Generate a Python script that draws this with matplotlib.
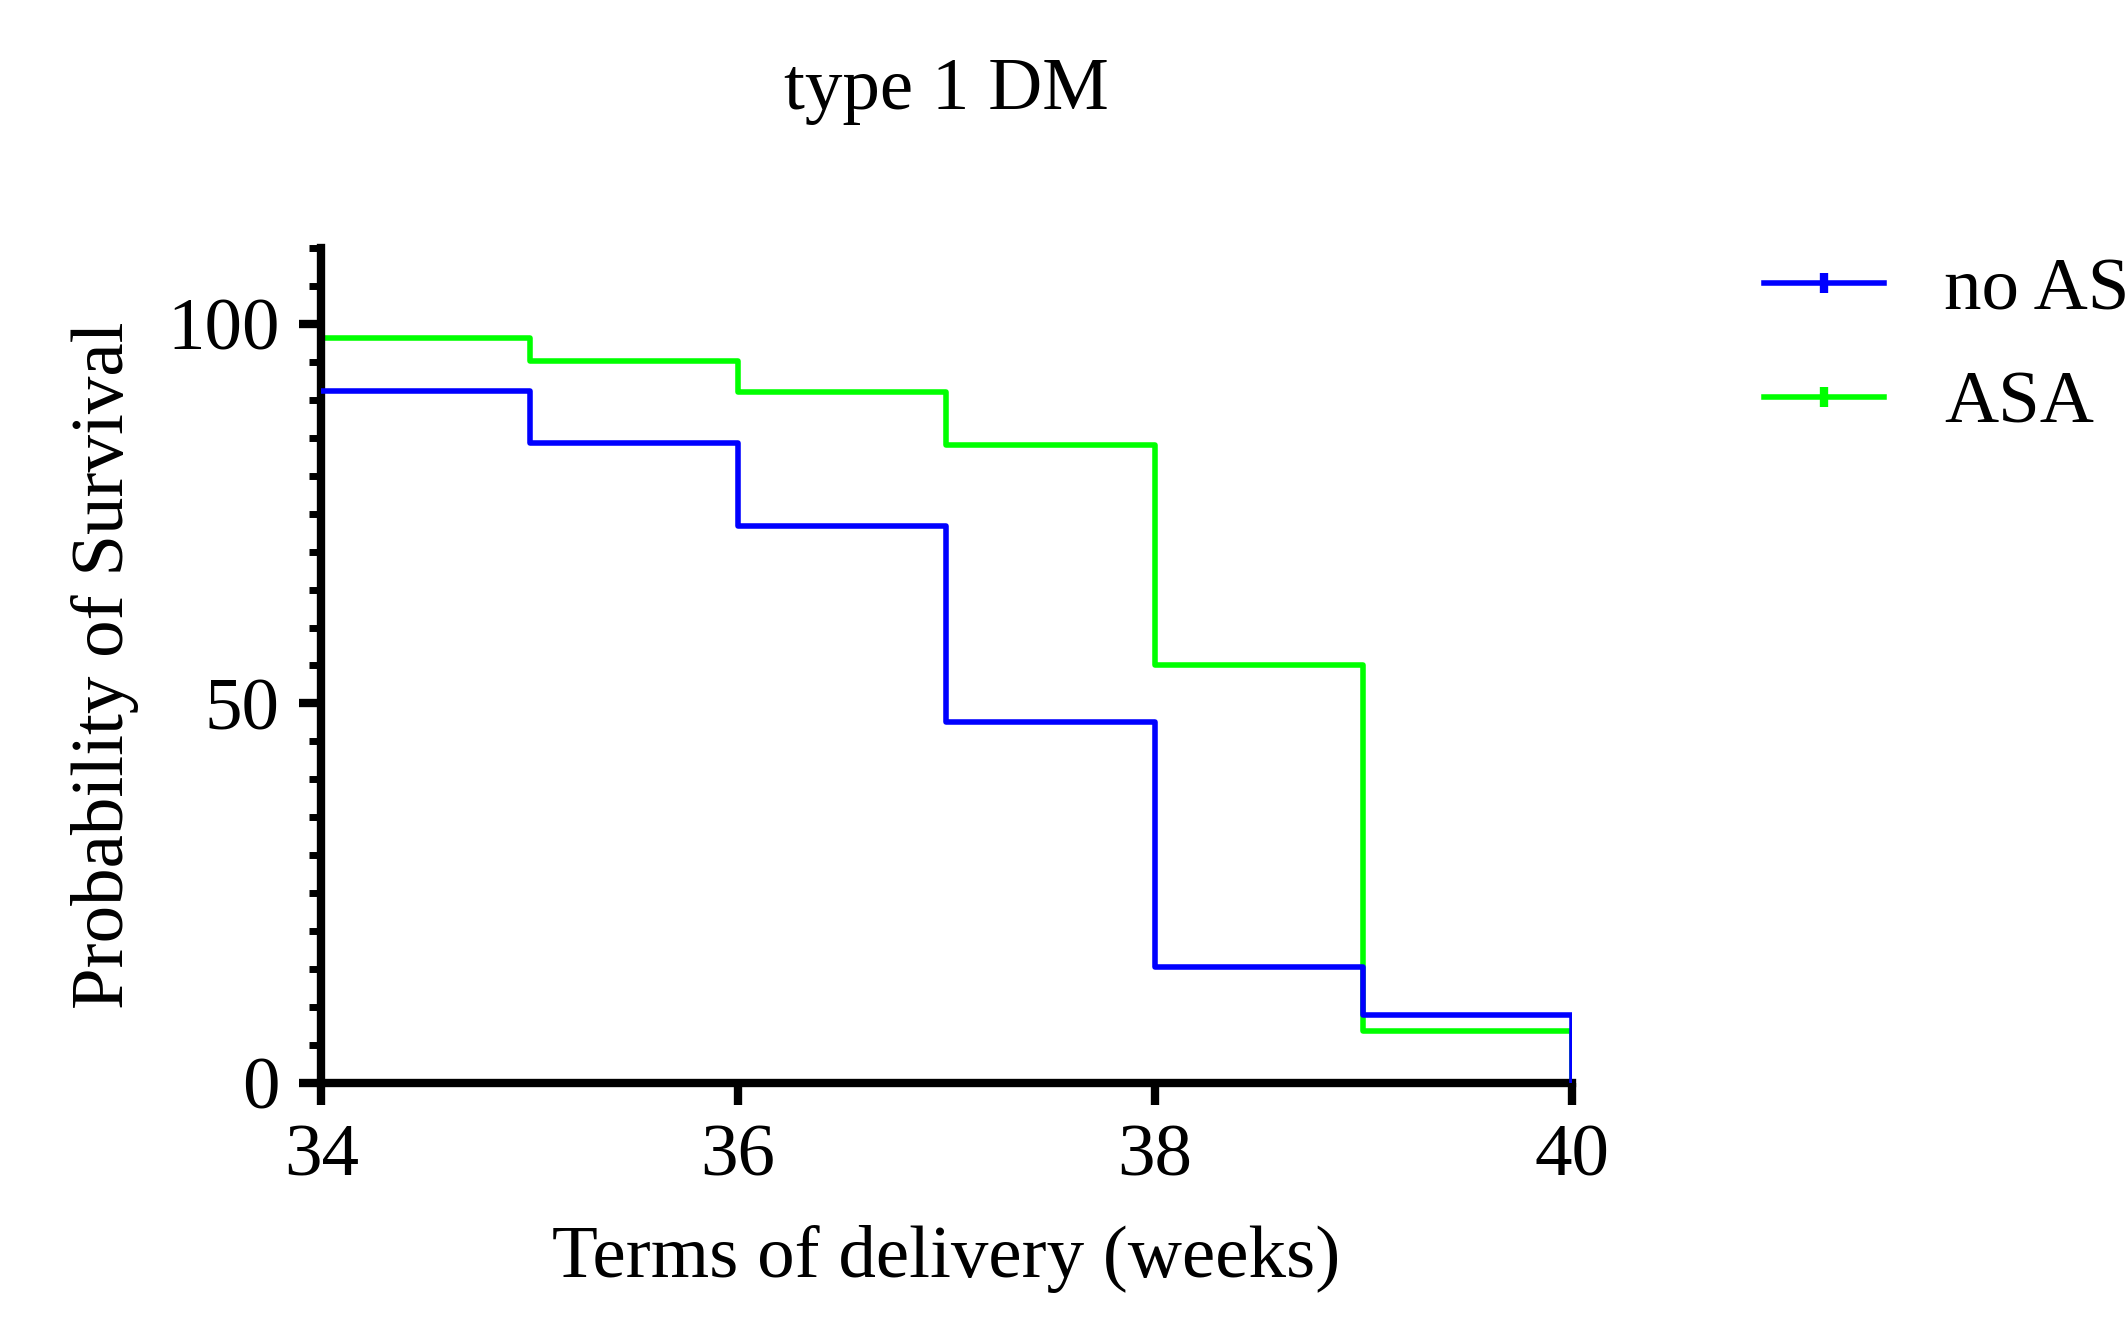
import matplotlib.pyplot as plt
from matplotlib.ticker import MultipleLocator
from matplotlib.lines import Line2D

plt.rcParams["font.family"] = ["Liberation Serif", "DejaVu Serif"]

weeks = [34, 35, 36, 37, 38, 39, 40]
no_asa = [91.2, 84.3, 73.4, 47.5, 15.2, 8.9, 0]
asa = [98.2, 95.2, 91.1, 84.1, 55.0, 6.8, 0]

fig = plt.figure(figsize=(21.28, 13.35), dpi=100)
ax = fig.add_axes([0.151, 0.189, 0.5875, 0.625])

ax.step(weeks, asa, where="post", color="#00ff00", lw=4, label="ASA", zorder=2)
ax.step(weeks, no_asa, where="post", color="#0000ff", lw=4, label="no ASA", zorder=3)

ax.set_xlim(34, 40)
ax.set_ylim(0, 110)
ax.set_xticks([34, 36, 38, 40])
ax.set_yticks([0, 50, 100])
ax.yaxis.set_minor_locator(MultipleLocator(5))
for s in ["top", "right"]:
    ax.spines[s].set_visible(False)
for s in ["left", "bottom"]:
    ax.spines[s].set_linewidth(6)
ax.tick_params(axis="both", which="major", width=6, length=16, labelsize=54, pad=14)
ax.tick_params(axis="y", which="minor", width=5, length=9)

ax.set_xlabel("Terms of delivery (weeks)", fontsize=54, labelpad=24)
ax.set_ylabel("Probability of Survival", fontsize=54, labelpad=20)
ax.set_title("type 1 DM", fontsize=54, pad=100)

handles = [Line2D([0], [0], color="#0000ff", lw=4, marker="|", ms=14, mew=6),
           Line2D([0], [0], color="#00ff00", lw=4, marker="|", ms=14, mew=6)]
fig.legend(handles, ["no ASA", "ASA"], loc="upper left", bbox_to_anchor=(0.815, 0.83),
           frameon=False, fontsize=54, numpoints=1, handlelength=1.6,
           handletextpad=0.8, labelspacing=0.6, borderaxespad=0)

fig.savefig("out.png", dpi=100)
